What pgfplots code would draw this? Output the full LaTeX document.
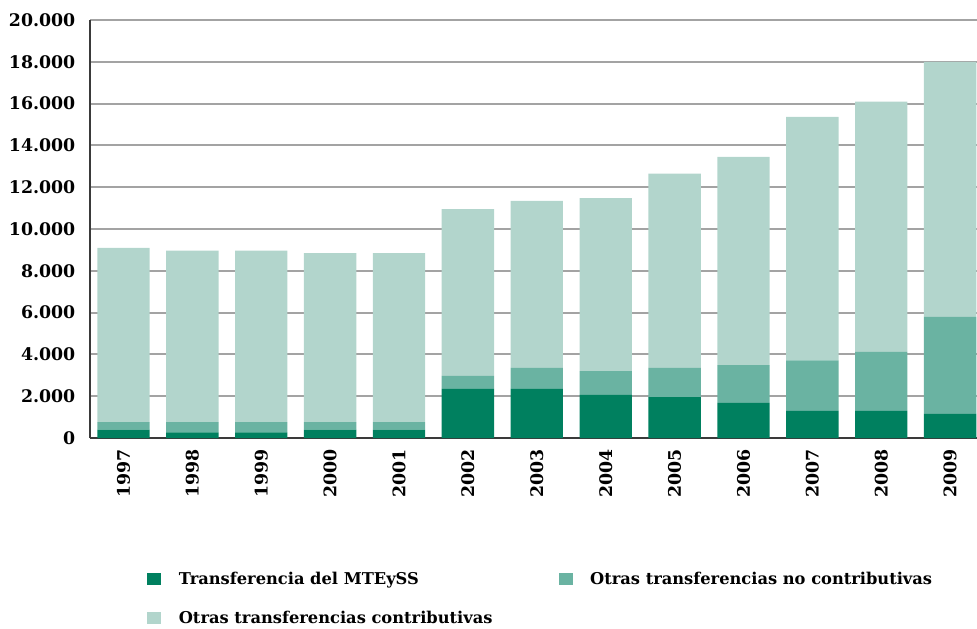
\documentclass[border=0pt]{standalone}
\usepackage{fontspec}
\setmainfont{DejaVu Serif}
\usepackage{pgfplots}
\pgfplotsset{compat=1.18}
\definecolor{cdark}{HTML}{00805F}
\definecolor{cmed}{HTML}{6AB3A2}
\definecolor{clight}{HTML}{B2D5CC}
\definecolor{cgrid}{HTML}{A3A3A3}
\definecolor{caxis}{HTML}{3A3A3A}
\begin{document}
\begin{tikzpicture}
\path[use as bounding box] (0pt,0pt) rectangle (732.75pt,471pt);
\begin{axis}[
  at={(67.5pt,142.5pt)}, anchor=south west,
  scale only axis, width=665.25pt, height=313.5pt,
  ybar stacked, bar width=0.76,
  xmin=-0.486, xmax=12.39, ymin=0, ymax=20000,
  xtick={0,...,12},
  xticklabels={1997,1998,1999,2000,2001,2002,2003,2004,2005,2006,2007,2008,2009},
  ytick={0,2000,...,20000},
  scaled y ticks=false,
  /pgf/number format/.cd, 1000 sep={.}, assume math mode=true, /pgfplots/.cd,
  major tick length=0pt,
  axis x line*=bottom, axis y line*=left,
  x axis line style={-, draw=caxis, line width=1.5pt},
  y axis line style={-, draw=caxis, line width=1.5pt},
  ymajorgrids, grid style={cgrid, line width=1.5pt},
  yticklabel style={font=\bfseries\fontsize{13}{14}\selectfont},
  yticklabel shift=7.5pt,
  xticklabel style={rotate=90, anchor=east, font=\bfseries\fontsize{13}{14}\selectfont},
  xticklabel shift=5pt,
  legend columns=2,
  legend cell align=left,
  legend image code/.code={\fill[#1] (0pt,-4.5pt) rectangle (10.5pt,4.5pt);},
  legend style={draw=none, fill=none, at={(0.06,-0.307)}, anchor=north west,
    font=\bfseries\fontsize{12.2}{14}\selectfont, row sep=14.5pt,
    /tikz/every odd column/.append style={column sep=11pt},
    /tikz/every even column/.append style={column sep=0pt}},
]
\addplot[fill=cdark, draw=none] coordinates {
 (0,400) (1,270) (2,270) (3,400) (4,400) (5,2345) (6,2345) (7,2060) (8,1960) (9,1675) (10,1300) (11,1300) (12,1160)};
\addlegendentry{\makebox[283pt][l]{Transferencia del MTEySS}}
\addplot[fill=cmed, draw=none] coordinates {
 (0,360) (1,490) (2,490) (3,360) (4,360) (5,625) (6,1005) (7,1140) (8,1390) (9,1815) (10,2410) (11,2820) (12,4630)};
\addlegendentry{Otras transferencias no contributivas}
\addplot[fill=clight, draw=none] coordinates {
 (0,8340) (1,8200) (2,8200) (3,8080) (4,8080) (5,7980) (6,8000) (7,8280) (8,9300) (9,9960) (10,11650) (11,11980) (12,12210)};
\addlegendentry{\makebox[283pt][l]{Otras transferencias contributivas}}
\end{axis}
\end{tikzpicture}
\end{document}
